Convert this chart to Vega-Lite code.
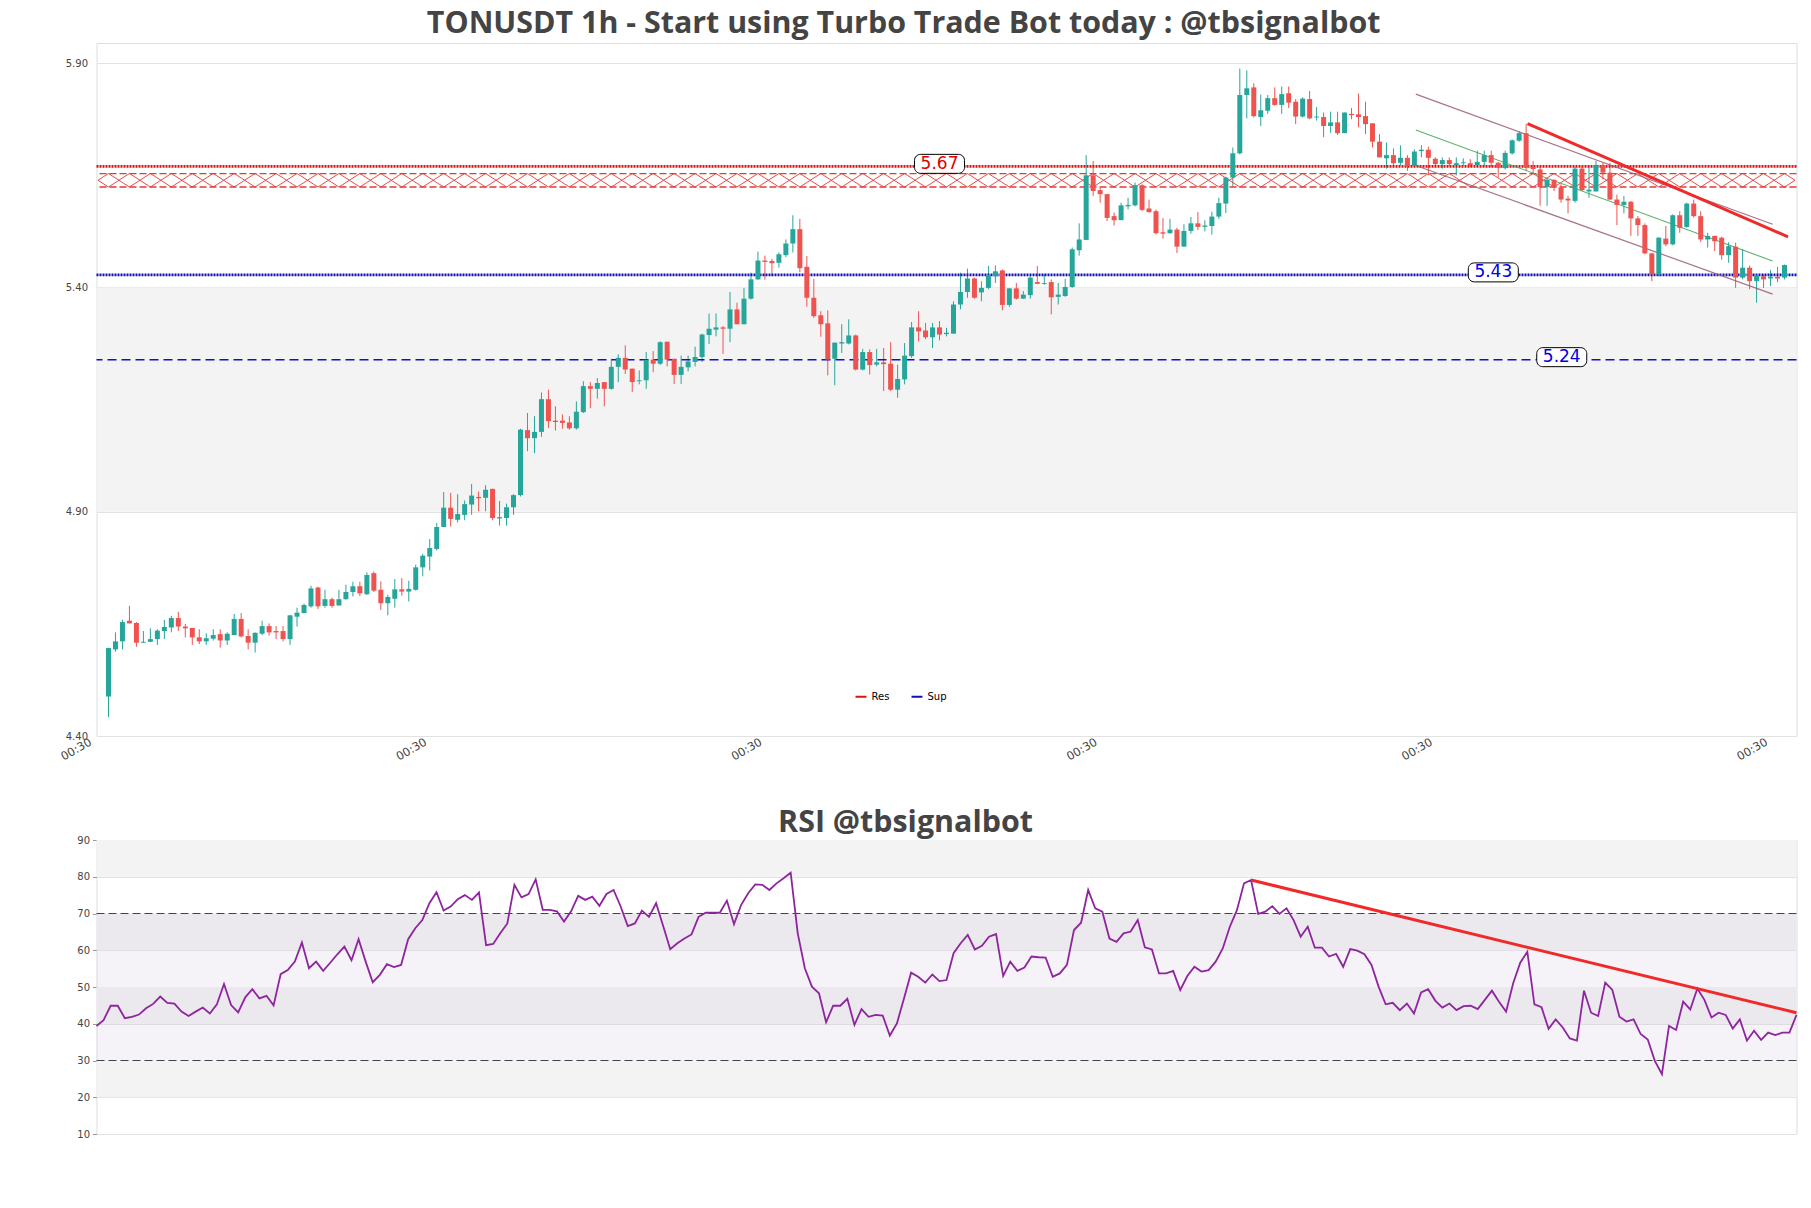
{
"$schema":"https://vega.github.io/schema/vega-lite/v6.json",
"background":"white",
"padding":{"left":57.5,"top":9,"right":5,"bottom":5},
"title":{"text":"TONUSDT 1h - Start using Turbo Trade Bot today : @tbsignalbot","font":"Open Sans","fontSize":30.4,"fontWeight":"bold","color":"#444444","anchor":"middle","offset":3,"dx":-27},
"config":{
 "view":{"stroke":"#dddddd"},
 "axis":{"labelFont":"DejaVu Sans","labelFontSize":10,"labelColor":"#444444","domain":false,"ticks":false,"gridColor":"#e2e2e2","zindex":1},
 "concat":{"spacing":43}
},
"datasets":{
"one":[{}],
"candles":[
{"i":0,"o":4.488,"h":4.597,"l":4.442,"c":4.596},{"i":1,"o":4.593,"h":4.631,"l":4.588,"c":4.611},{"i":2,"o":4.611,"h":4.659,"l":4.593,"c":4.654},{"i":3,"o":4.657,"h":4.690,"l":4.651,"c":4.651},{"i":4,"o":4.652,"h":4.654,"l":4.599,"c":4.608},{"i":5,"o":4.608,"h":4.634,"l":4.607,"c":4.610},{"i":6,"o":4.610,"h":4.640,"l":4.609,"c":4.616},{"i":7,"o":4.616,"h":4.638,"l":4.603,"c":4.635},{"i":8,"o":4.634,"h":4.659,"l":4.616,"c":4.643},{"i":9,"o":4.642,"h":4.668,"l":4.631,"c":4.663},
{"i":10,"o":4.663,"h":4.677,"l":4.634,"c":4.644},{"i":11,"o":4.644,"h":4.650,"l":4.620,"c":4.640},{"i":12,"o":4.641,"h":4.641,"l":4.603,"c":4.620},{"i":13,"o":4.620,"h":4.638,"l":4.605,"c":4.611},{"i":14,"o":4.611,"h":4.629,"l":4.603,"c":4.618},{"i":15,"o":4.617,"h":4.638,"l":4.613,"c":4.625},{"i":16,"o":4.627,"h":4.638,"l":4.597,"c":4.613},{"i":17,"o":4.613,"h":4.631,"l":4.603,"c":4.628},{"i":18,"o":4.625,"h":4.672,"l":4.625,"c":4.661},{"i":19,"o":4.661,"h":4.674,"l":4.620,"c":4.622},
{"i":20,"o":4.623,"h":4.638,"l":4.593,"c":4.608},{"i":21,"o":4.608,"h":4.631,"l":4.586,"c":4.630},{"i":22,"o":4.628,"h":4.657,"l":4.625,"c":4.645},{"i":23,"o":4.645,"h":4.651,"l":4.624,"c":4.631},{"i":24,"o":4.634,"h":4.645,"l":4.616,"c":4.631},{"i":25,"o":4.634,"h":4.645,"l":4.611,"c":4.616},{"i":26,"o":4.616,"h":4.670,"l":4.603,"c":4.669},{"i":27,"o":4.666,"h":4.686,"l":4.644,"c":4.675},{"i":28,"o":4.674,"h":4.695,"l":4.674,"c":4.692},{"i":29,"o":4.689,"h":4.735,"l":4.686,"c":4.729},
{"i":30,"o":4.731,"h":4.733,"l":4.683,"c":4.689},{"i":31,"o":4.690,"h":4.726,"l":4.686,"c":4.705},{"i":32,"o":4.705,"h":4.709,"l":4.686,"c":4.690},{"i":33,"o":4.691,"h":4.726,"l":4.691,"c":4.705},{"i":34,"o":4.705,"h":4.737,"l":4.704,"c":4.721},{"i":35,"o":4.721,"h":4.744,"l":4.711,"c":4.734},{"i":36,"o":4.734,"h":4.744,"l":4.712,"c":4.718},{"i":37,"o":4.716,"h":4.765,"l":4.715,"c":4.759},{"i":38,"o":4.763,"h":4.767,"l":4.721,"c":4.724},{"i":39,"o":4.726,"h":4.745,"l":4.681,"c":4.696},
{"i":40,"o":4.696,"h":4.715,"l":4.669,"c":4.710},{"i":41,"o":4.706,"h":4.750,"l":4.686,"c":4.727},{"i":42,"o":4.727,"h":4.752,"l":4.713,"c":4.722},{"i":43,"o":4.722,"h":4.746,"l":4.700,"c":4.728},{"i":44,"o":4.726,"h":4.782,"l":4.724,"c":4.776},{"i":45,"o":4.776,"h":4.806,"l":4.756,"c":4.802},{"i":46,"o":4.800,"h":4.839,"l":4.769,"c":4.819},{"i":47,"o":4.817,"h":4.875,"l":4.814,"c":4.866},{"i":48,"o":4.866,"h":4.944,"l":4.866,"c":4.909},{"i":49,"o":4.909,"h":4.942,"l":4.867,"c":4.884},
{"i":50,"o":4.882,"h":4.939,"l":4.876,"c":4.895},{"i":51,"o":4.893,"h":4.925,"l":4.881,"c":4.917},{"i":52,"o":4.916,"h":4.962,"l":4.893,"c":4.936},{"i":53,"o":4.933,"h":4.945,"l":4.901,"c":4.930},{"i":54,"o":4.931,"h":4.959,"l":4.901,"c":4.949},{"i":55,"o":4.951,"h":4.951,"l":4.881,"c":4.886},{"i":56,"o":4.885,"h":4.924,"l":4.869,"c":4.888},{"i":57,"o":4.886,"h":4.918,"l":4.869,"c":4.910},{"i":58,"o":4.910,"h":4.939,"l":4.893,"c":4.937},{"i":59,"o":4.937,"h":5.085,"l":4.934,"c":5.083},
{"i":60,"o":5.082,"h":5.120,"l":5.035,"c":5.064},{"i":61,"o":5.064,"h":5.113,"l":5.031,"c":5.078},{"i":62,"o":5.078,"h":5.166,"l":5.067,"c":5.151},{"i":63,"o":5.151,"h":5.172,"l":5.087,"c":5.102},{"i":64,"o":5.103,"h":5.135,"l":5.081,"c":5.100},{"i":65,"o":5.103,"h":5.117,"l":5.085,"c":5.098},{"i":66,"o":5.099,"h":5.113,"l":5.083,"c":5.086},{"i":67,"o":5.086,"h":5.146,"l":5.083,"c":5.123},{"i":68,"o":5.122,"h":5.191,"l":5.120,"c":5.180},{"i":69,"o":5.180,"h":5.189,"l":5.131,"c":5.174},
{"i":70,"o":5.174,"h":5.198,"l":5.152,"c":5.187},{"i":71,"o":5.189,"h":5.189,"l":5.135,"c":5.174},{"i":72,"o":5.174,"h":5.241,"l":5.172,"c":5.223},{"i":73,"o":5.223,"h":5.251,"l":5.189,"c":5.243},{"i":74,"o":5.243,"h":5.271,"l":5.207,"c":5.217},{"i":75,"o":5.219,"h":5.219,"l":5.167,"c":5.189},{"i":76,"o":5.191,"h":5.215,"l":5.184,"c":5.193},{"i":77,"o":5.193,"h":5.256,"l":5.174,"c":5.239},{"i":78,"o":5.239,"h":5.258,"l":5.211,"c":5.230},{"i":79,"o":5.230,"h":5.280,"l":5.227,"c":5.278},
{"i":80,"o":5.279,"h":5.279,"l":5.224,"c":5.239},{"i":81,"o":5.241,"h":5.241,"l":5.185,"c":5.205},{"i":82,"o":5.205,"h":5.248,"l":5.185,"c":5.223},{"i":83,"o":5.222,"h":5.248,"l":5.213,"c":5.235},{"i":84,"o":5.234,"h":5.268,"l":5.224,"c":5.245},{"i":85,"o":5.245,"h":5.297,"l":5.234,"c":5.295},{"i":86,"o":5.294,"h":5.342,"l":5.274,"c":5.308},{"i":87,"o":5.306,"h":5.342,"l":5.291,"c":5.311},{"i":88,"o":5.311,"h":5.314,"l":5.252,"c":5.308},{"i":89,"o":5.308,"h":5.390,"l":5.278,"c":5.351},
{"i":90,"o":5.351,"h":5.366,"l":5.318,"c":5.318},{"i":91,"o":5.318,"h":5.399,"l":5.318,"c":5.375},{"i":92,"o":5.375,"h":5.433,"l":5.373,"c":5.418},{"i":93,"o":5.418,"h":5.480,"l":5.417,"c":5.460},{"i":94,"o":5.460,"h":5.471,"l":5.417,"c":5.457},{"i":95,"o":5.459,"h":5.464,"l":5.425,"c":5.454},{"i":96,"o":5.455,"h":5.478,"l":5.444,"c":5.474},{"i":97,"o":5.472,"h":5.507,"l":5.468,"c":5.498},{"i":98,"o":5.498,"h":5.561,"l":5.478,"c":5.530},{"i":99,"o":5.530,"h":5.553,"l":5.434,"c":5.443},
{"i":100,"o":5.446,"h":5.470,"l":5.357,"c":5.377},{"i":101,"o":5.377,"h":5.419,"l":5.332,"c":5.336},{"i":102,"o":5.338,"h":5.347,"l":5.290,"c":5.318},{"i":103,"o":5.320,"h":5.349,"l":5.204,"c":5.239},{"i":104,"o":5.241,"h":5.277,"l":5.182,"c":5.277},{"i":105,"o":5.275,"h":5.318,"l":5.254,"c":5.278},{"i":106,"o":5.275,"h":5.329,"l":5.273,"c":5.293},{"i":107,"o":5.293,"h":5.295,"l":5.215,"c":5.217},{"i":108,"o":5.217,"h":5.263,"l":5.215,"c":5.256},{"i":109,"o":5.256,"h":5.262,"l":5.206,"c":5.227},
{"i":110,"o":5.228,"h":5.263,"l":5.224,"c":5.233},{"i":111,"o":5.233,"h":5.265,"l":5.169,"c":5.229},{"i":112,"o":5.230,"h":5.278,"l":5.169,"c":5.172},{"i":113,"o":5.172,"h":5.228,"l":5.154,"c":5.196},{"i":114,"o":5.195,"h":5.276,"l":5.184,"c":5.248},{"i":115,"o":5.247,"h":5.323,"l":5.243,"c":5.311},{"i":116,"o":5.311,"h":5.347,"l":5.280,"c":5.302},{"i":117,"o":5.304,"h":5.321,"l":5.285,"c":5.289},{"i":118,"o":5.289,"h":5.321,"l":5.265,"c":5.311},{"i":119,"o":5.311,"h":5.325,"l":5.282,"c":5.295},
{"i":120,"o":5.296,"h":5.310,"l":5.291,"c":5.299},{"i":121,"o":5.297,"h":5.369,"l":5.297,"c":5.362},{"i":122,"o":5.362,"h":5.433,"l":5.351,"c":5.390},{"i":123,"o":5.390,"h":5.442,"l":5.377,"c":5.420},{"i":124,"o":5.420,"h":5.422,"l":5.375,"c":5.377},{"i":125,"o":5.389,"h":5.414,"l":5.369,"c":5.399},{"i":126,"o":5.399,"h":5.448,"l":5.396,"c":5.428},{"i":127,"o":5.425,"h":5.449,"l":5.410,"c":5.436},{"i":128,"o":5.438,"h":5.440,"l":5.349,"c":5.361},{"i":129,"o":5.361,"h":5.398,"l":5.357,"c":5.398},
{"i":130,"o":5.398,"h":5.410,"l":5.373,"c":5.375},{"i":131,"o":5.375,"h":5.392,"l":5.375,"c":5.384},{"i":132,"o":5.383,"h":5.425,"l":5.375,"c":5.422},{"i":133,"o":5.412,"h":5.448,"l":5.407,"c":5.408},{"i":134,"o":5.408,"h":5.430,"l":5.406,"c":5.410},{"i":135,"o":5.412,"h":5.418,"l":5.340,"c":5.378},{"i":136,"o":5.379,"h":5.410,"l":5.362,"c":5.384},{"i":137,"o":5.381,"h":5.419,"l":5.379,"c":5.401},{"i":138,"o":5.401,"h":5.489,"l":5.399,"c":5.485},{"i":139,"o":5.483,"h":5.543,"l":5.471,"c":5.507},
{"i":140,"o":5.506,"h":5.695,"l":5.506,"c":5.650},{"i":141,"o":5.650,"h":5.682,"l":5.604,"c":5.615},{"i":142,"o":5.617,"h":5.622,"l":5.589,"c":5.608},{"i":143,"o":5.608,"h":5.608,"l":5.548,"c":5.555},{"i":144,"o":5.559,"h":5.567,"l":5.538,"c":5.550},{"i":145,"o":5.550,"h":5.589,"l":5.550,"c":5.583},{"i":146,"o":5.581,"h":5.600,"l":5.574,"c":5.584},{"i":147,"o":5.583,"h":5.634,"l":5.581,"c":5.628},{"i":148,"o":5.628,"h":5.630,"l":5.570,"c":5.573},{"i":149,"o":5.576,"h":5.596,"l":5.567,"c":5.568},
{"i":150,"o":5.570,"h":5.574,"l":5.518,"c":5.521},{"i":151,"o":5.523,"h":5.555,"l":5.509,"c":5.520},{"i":152,"o":5.521,"h":5.553,"l":5.520,"c":5.529},{"i":153,"o":5.529,"h":5.533,"l":5.477,"c":5.491},{"i":154,"o":5.491,"h":5.541,"l":5.491,"c":5.526},{"i":155,"o":5.526,"h":5.557,"l":5.520,"c":5.543},{"i":156,"o":5.543,"h":5.568,"l":5.528,"c":5.535},{"i":157,"o":5.535,"h":5.550,"l":5.525,"c":5.538},{"i":158,"o":5.537,"h":5.569,"l":5.518,"c":5.558},{"i":159,"o":5.558,"h":5.600,"l":5.553,"c":5.588},
{"i":160,"o":5.587,"h":5.647,"l":5.566,"c":5.645},{"i":161,"o":5.645,"h":5.712,"l":5.625,"c":5.699},{"i":162,"o":5.699,"h":5.888,"l":5.697,"c":5.829},{"i":163,"o":5.829,"h":5.884,"l":5.777,"c":5.844},{"i":164,"o":5.846,"h":5.855,"l":5.779,"c":5.782},{"i":165,"o":5.780,"h":5.830,"l":5.760,"c":5.795},{"i":166,"o":5.794,"h":5.829,"l":5.787,"c":5.822},{"i":167,"o":5.822,"h":5.846,"l":5.805,"c":5.807},{"i":168,"o":5.807,"h":5.848,"l":5.787,"c":5.831},{"i":169,"o":5.833,"h":5.848,"l":5.800,"c":5.812},
{"i":170,"o":5.814,"h":5.820,"l":5.764,"c":5.781},{"i":171,"o":5.781,"h":5.824,"l":5.779,"c":5.821},{"i":172,"o":5.820,"h":5.838,"l":5.775,"c":5.777},{"i":173,"o":5.779,"h":5.802,"l":5.772,"c":5.781},{"i":174,"o":5.780,"h":5.790,"l":5.735,"c":5.760},{"i":175,"o":5.760,"h":5.792,"l":5.745,"c":5.768},{"i":176,"o":5.768,"h":5.792,"l":5.740,"c":5.744},{"i":177,"o":5.744,"h":5.790,"l":5.744,"c":5.790},{"i":178,"o":5.787,"h":5.800,"l":5.775,"c":5.784},{"i":179,"o":5.786,"h":5.832,"l":5.757,"c":5.780},
{"i":180,"o":5.782,"h":5.814,"l":5.742,"c":5.764},{"i":181,"o":5.766,"h":5.766,"l":5.712,"c":5.725},{"i":182,"o":5.725,"h":5.742,"l":5.690,"c":5.690},{"i":183,"o":5.688,"h":5.723,"l":5.665,"c":5.695},{"i":184,"o":5.695,"h":5.710,"l":5.668,"c":5.677},{"i":185,"o":5.678,"h":5.717,"l":5.672,"c":5.689},{"i":186,"o":5.689,"h":5.695,"l":5.660,"c":5.671},{"i":187,"o":5.671,"h":5.708,"l":5.668,"c":5.703},{"i":188,"o":5.704,"h":5.717,"l":5.690,"c":5.707},{"i":189,"o":5.707,"h":5.714,"l":5.650,"c":5.689},
{"i":190,"o":5.687,"h":5.690,"l":5.668,"c":5.675},{"i":191,"o":5.675,"h":5.690,"l":5.665,"c":5.684},{"i":192,"o":5.684,"h":5.690,"l":5.670,"c":5.675},{"i":193,"o":5.673,"h":5.690,"l":5.650,"c":5.677},{"i":194,"o":5.677,"h":5.688,"l":5.672,"c":5.679},{"i":195,"o":5.677,"h":5.686,"l":5.668,"c":5.673},{"i":196,"o":5.673,"h":5.705,"l":5.668,"c":5.680},{"i":197,"o":5.680,"h":5.705,"l":5.670,"c":5.695},{"i":198,"o":5.695,"h":5.705,"l":5.668,"c":5.678},{"i":199,"o":5.678,"h":5.680,"l":5.645,"c":5.667},
{"i":200,"o":5.666,"h":5.705,"l":5.663,"c":5.700},{"i":201,"o":5.699,"h":5.730,"l":5.696,"c":5.728},{"i":202,"o":5.727,"h":5.748,"l":5.725,"c":5.744},{"i":203,"o":5.744,"h":5.765,"l":5.660,"c":5.667},{"i":204,"o":5.669,"h":5.682,"l":5.655,"c":5.664},{"i":205,"o":5.663,"h":5.668,"l":5.582,"c":5.624},{"i":206,"o":5.624,"h":5.643,"l":5.582,"c":5.640},{"i":207,"o":5.640,"h":5.641,"l":5.615,"c":5.623},{"i":208,"o":5.623,"h":5.630,"l":5.589,"c":5.596},{"i":209,"o":5.598,"h":5.604,"l":5.565,"c":5.594},
{"i":210,"o":5.593,"h":5.669,"l":5.589,"c":5.665},{"i":211,"o":5.665,"h":5.669,"l":5.615,"c":5.617},{"i":212,"o":5.614,"h":5.671,"l":5.600,"c":5.618},{"i":213,"o":5.614,"h":5.682,"l":5.614,"c":5.672},{"i":214,"o":5.672,"h":5.678,"l":5.641,"c":5.656},{"i":215,"o":5.656,"h":5.678,"l":5.595,"c":5.596},{"i":216,"o":5.596,"h":5.607,"l":5.539,"c":5.584},{"i":217,"o":5.584,"h":5.604,"l":5.565,"c":5.591},{"i":218,"o":5.591,"h":5.593,"l":5.515,"c":5.554},{"i":219,"o":5.554,"h":5.559,"l":5.515,"c":5.539},
{"i":220,"o":5.539,"h":5.543,"l":5.474,"c":5.476},{"i":221,"o":5.476,"h":5.477,"l":5.414,"c":5.429},{"i":222,"o":5.429,"h":5.512,"l":5.425,"c":5.511},{"i":223,"o":5.509,"h":5.537,"l":5.492,"c":5.496},{"i":224,"o":5.496,"h":5.563,"l":5.494,"c":5.561},{"i":225,"o":5.561,"h":5.570,"l":5.522,"c":5.533},{"i":226,"o":5.535,"h":5.589,"l":5.533,"c":5.587},{"i":227,"o":5.587,"h":5.596,"l":5.556,"c":5.559},{"i":228,"o":5.559,"h":5.570,"l":5.501,"c":5.507},{"i":229,"o":5.507,"h":5.522,"l":5.489,"c":5.515},
{"i":230,"o":5.515,"h":5.515,"l":5.481,"c":5.503},{"i":231,"o":5.511,"h":5.513,"l":5.462,"c":5.472},{"i":232,"o":5.472,"h":5.501,"l":5.455,"c":5.492},{"i":233,"o":5.491,"h":5.500,"l":5.399,"c":5.422},{"i":234,"o":5.422,"h":5.486,"l":5.418,"c":5.444},{"i":235,"o":5.444,"h":5.449,"l":5.396,"c":5.414},{"i":236,"o":5.414,"h":5.429,"l":5.366,"c":5.427},{"i":237,"o":5.425,"h":5.429,"l":5.399,"c":5.418},{"i":238,"o":5.420,"h":5.439,"l":5.403,"c":5.424},{"i":239,"o":5.424,"h":5.446,"l":5.412,"c":5.420},
{"i":240,"o":5.422,"h":5.451,"l":5.418,"c":5.450}
],
"rsi":[
{"i":0,"r":39.4},{"i":1,"r":41.0},{"i":2,"r":44.9},{"i":3,"r":44.9},{"i":4,"r":41.5},{"i":5,"r":41.9},{"i":6,"r":42.5},{"i":7,"r":44.2},{"i":8,"r":45.4},{"i":9,"r":47.4},
{"i":10,"r":45.7},{"i":11,"r":45.5},{"i":12,"r":43.3},{"i":13,"r":42.1},{"i":14,"r":43.3},{"i":15,"r":44.4},{"i":16,"r":42.8},{"i":17,"r":45.3},{"i":18,"r":50.8},{"i":19,"r":45.1},
{"i":20,"r":43.1},{"i":21,"r":47.2},{"i":22,"r":49.4},{"i":23,"r":46.9},{"i":24,"r":47.6},{"i":25,"r":45.0},{"i":26,"r":53.5},{"i":27,"r":54.6},{"i":28,"r":56.9},{"i":29,"r":62.1},
{"i":30,"r":55.1},{"i":31,"r":56.9},{"i":32,"r":54.4},{"i":33,"r":56.6},{"i":34,"r":58.9},{"i":35,"r":61.0},{"i":36,"r":57.3},{"i":37,"r":63.0},{"i":38,"r":56.9},{"i":39,"r":51.3},
{"i":40,"r":53.3},{"i":41,"r":56.2},{"i":42,"r":55.4},{"i":43,"r":56.0},{"i":44,"r":63.0},{"i":45,"r":66.0},{"i":46,"r":68.2},{"i":47,"r":72.8},{"i":48,"r":75.8},{"i":49,"r":70.8},
{"i":50,"r":71.9},{"i":51,"r":73.9},{"i":52,"r":75.0},{"i":53,"r":73.7},{"i":54,"r":75.7},{"i":55,"r":61.4},{"i":56,"r":61.7},{"i":57,"r":64.6},{"i":58,"r":67.3},{"i":59,"r":77.8},
{"i":60,"r":74.4},{"i":61,"r":75.3},{"i":62,"r":79.3},{"i":63,"r":71.0},{"i":64,"r":71.0},{"i":65,"r":70.6},{"i":66,"r":67.8},{"i":67,"r":70.6},{"i":68,"r":74.8},{"i":69,"r":73.7},
{"i":70,"r":74.6},{"i":71,"r":72.1},{"i":72,"r":75.3},{"i":73,"r":76.4},{"i":74,"r":71.9},{"i":75,"r":66.6},{"i":76,"r":67.3},{"i":77,"r":70.8},{"i":78,"r":69.1},{"i":79,"r":72.8},
{"i":80,"r":66.6},{"i":81,"r":60.3},{"i":82,"r":61.9},{"i":83,"r":63.2},{"i":84,"r":64.3},{"i":85,"r":69.1},{"i":86,"r":70.2},{"i":87,"r":70.2},{"i":88,"r":70.2},{"i":89,"r":73.5},
{"i":90,"r":67.1},{"i":91,"r":72.3},{"i":92,"r":75.5},{"i":93,"r":77.9},{"i":94,"r":77.8},{"i":95,"r":76.4},{"i":96,"r":78.2},{"i":97,"r":79.6},{"i":98,"r":81.1},{"i":99,"r":64.6},
{"i":100,"r":55.1},{"i":101,"r":50.1},{"i":102,"r":48.3},{"i":103,"r":40.4},{"i":104,"r":44.9},{"i":105,"r":44.9},{"i":106,"r":46.8},{"i":107,"r":39.7},{"i":108,"r":44.0},{"i":109,"r":41.9},
{"i":110,"r":42.4},{"i":111,"r":42.2},{"i":112,"r":36.8},{"i":113,"r":40.1},{"i":114,"r":46.9},{"i":115,"r":53.9},{"i":116,"r":52.8},{"i":117,"r":51.2},{"i":118,"r":53.4},{"i":119,"r":51.6},
{"i":120,"r":51.9},{"i":121,"r":59.2},{"i":122,"r":61.9},{"i":123,"r":64.2},{"i":124,"r":60.2},{"i":125,"r":61.2},{"i":126,"r":63.7},{"i":127,"r":64.4},{"i":128,"r":53.0},{"i":129,"r":56.9},
{"i":130,"r":54.4},{"i":131,"r":55.3},{"i":132,"r":58.3},{"i":133,"r":58.1},{"i":134,"r":58.0},{"i":135,"r":52.8},{"i":136,"r":53.7},{"i":137,"r":56.0},{"i":138,"r":65.5},{"i":139,"r":67.5},
{"i":140,"r":76.4},{"i":141,"r":71.4},{"i":142,"r":70.5},{"i":143,"r":63.2},{"i":144,"r":62.3},{"i":145,"r":64.6},{"i":146,"r":65.1},{"i":147,"r":68.2},{"i":148,"r":60.8},{"i":149,"r":60.2},
{"i":150,"r":53.7},{"i":151,"r":53.7},{"i":152,"r":54.4},{"i":153,"r":49.2},{"i":154,"r":53.0},{"i":155,"r":55.5},{"i":156,"r":54.2},{"i":157,"r":54.6},{"i":158,"r":56.9},{"i":159,"r":60.5},
{"i":160,"r":66.4},{"i":161,"r":70.9},{"i":162,"r":78.2},{"i":163,"r":79.1},{"i":164,"r":69.9},{"i":165,"r":70.5},{"i":166,"r":72.0},{"i":167,"r":69.9},{"i":168,"r":71.4},{"i":169,"r":68.2},
{"i":170,"r":63.7},{"i":171,"r":66.4},{"i":172,"r":60.7},{"i":173,"r":60.7},{"i":174,"r":58.3},{"i":175,"r":59.0},{"i":176,"r":55.5},{"i":177,"r":60.3},{"i":178,"r":59.9},{"i":179,"r":58.9},
{"i":180,"r":56.0},{"i":181,"r":50.1},{"i":182,"r":45.3},{"i":183,"r":45.7},{"i":184,"r":43.7},{"i":185,"r":45.5},{"i":186,"r":42.8},{"i":187,"r":48.5},{"i":188,"r":49.4},{"i":189,"r":46.3},
{"i":190,"r":44.4},{"i":191,"r":45.5},{"i":192,"r":43.7},{"i":193,"r":44.8},{"i":194,"r":44.9},{"i":195,"r":44.0},{"i":196,"r":46.5},{"i":197,"r":49.0},{"i":198,"r":46.0},{"i":199,"r":43.3},
{"i":200,"r":51.0},{"i":201,"r":56.6},{"i":202,"r":59.6},{"i":203,"r":45.3},{"i":204,"r":44.5},{"i":205,"r":38.6},{"i":206,"r":41.2},{"i":207,"r":39.0},{"i":208,"r":36.0},{"i":209,"r":35.4},
{"i":210,"r":49.0},{"i":211,"r":43.0},{"i":212,"r":42.1},{"i":213,"r":51.2},{"i":214,"r":49.2},{"i":215,"r":41.9},{"i":216,"r":40.6},{"i":217,"r":41.2},{"i":218,"r":37.2},{"i":219,"r":35.7},
{"i":220,"r":29.9},{"i":221,"r":26.3},{"i":222,"r":39.4},{"i":223,"r":38.3},{"i":224,"r":46.0},{"i":225,"r":43.9},{"i":226,"r":49.6},{"i":227,"r":46.5},{"i":228,"r":41.7},{"i":229,"r":43.0},
{"i":230,"r":42.4},{"i":231,"r":38.7},{"i":232,"r":41.2},{"i":233,"r":35.4},{"i":234,"r":38.1},{"i":235,"r":35.6},{"i":236,"r":37.6},{"i":237,"r":36.9},{"i":238,"r":37.6},{"i":239,"r":37.6},
{"i":240,"r":42.4}
],
"levels":[{"name":"Res","level":5.67,"at":119},{"name":"Sup","level":5.428,"at":198.3}],
"channel":[{"g":"upper","i":187.2,"p":5.831},{"g":"upper","i":238.3,"p":5.541},{"g":"lower","i":187.2,"p":5.672},{"g":"lower","i":238.3,"p":5.385}],
"channelMid":[{"i":187.2,"p":5.751},{"i":238.3,"p":5.459}],
"trend":[{"i":203.2,"p":5.765},{"i":240.5,"p":5.513}],
"rsiTrend":[{"i":163,"r":79.1},{"i":240,"r":43.0}]
},
"vconcat":[
{
"width":1700,"height":693,
"layer":[
{"data":{"name":"one"},"mark":{"type":"rect","fill":"#f3f3f3"},"encoding":{"x":{"value":0},"x2":{"value":"width"},"y":{"datum":4.9,"type":"quantitative","title":null},"y2":{"datum":5.4}}},
{"data":{"name":"candles"},"mark":{"type":"rule","strokeWidth":1},
 "encoding":{
  "x":{"field":"i","type":"quantitative","title":null,"scale":{"domain":[-1,241],"nice":false,"zero":false},
       "axis":{"values":[0,48,96,144,192,240],"labelExpr":"'00:30'","labelAngle":-30,"labelAlign":"right","labelBaseline":"top","labelPadding":0,"labelOffset":-21,"labelFontSize":11.5,"grid":false}},
  "y":{"field":"l","type":"quantitative","title":null,"scale":{"domain":[4.4,5.945],"nice":false,"zero":false},
       "axis":{"values":[4.4,4.9,5.4,5.9],"format":".2f","labelPadding":9,"grid":true,"labelFontSize":10}},
  "y2":{"field":"h"},
  "color":{"condition":{"test":"datum.c >= datum.o","value":"#26a69a"},"value":"#ef5350"}}},
{"data":{"name":"candles"},"transform":[{"filter":"datum.i % 3 == 0"}],
 "mark":{"type":"point","shape":"M-1,0L0,-0.64L1,0L0,0.64Z","size":444,"filled":false,"color":"#e53935","strokeWidth":1,"opacity":0.9,"clip":true},
 "encoding":{"x":{"field":"i","type":"quantitative","title":null},"y":{"datum":5.639,"title":null}}},
{"data":{"name":"one"},"mark":{"type":"rule","color":"#e53935","strokeWidth":1.3,"strokeDash":[7,3]},"encoding":{"y":{"datum":5.654,"title":null}}},
{"data":{"name":"one"},"mark":{"type":"rule","color":"#e53935","strokeWidth":1.3,"strokeDash":[7,3]},"encoding":{"y":{"datum":5.624,"title":null}}},
{"data":{"name":"one"},"mark":{"type":"rule","color":"#1010c8","strokeWidth":1.5,"strokeDash":[9,5]},"encoding":{"y":{"datum":5.239,"title":null}}},
{"data":{"name":"levels"},"mark":{"type":"rule","strokeWidth":2.6,"strokeDash":[2,1]},
 "encoding":{"y":{"field":"level","type":"quantitative","title":null},
  "color":{"field":"name","type":"nominal","scale":{"domain":["Res","Sup"],"range":["#dd1111","#1010bb"]},
   "legend":{"title":null,"orient":"none","legendX":758,"legendY":647,"direction":"horizontal","symbolType":"stroke","symbolSize":120,"symbolStrokeWidth":2,"symbolDash":[10,0],"labelFont":"DejaVu Sans","labelFontSize":10,"labelColor":"#000000","columnPadding":18,"padding":0}}}},
{"data":{"name":"channel"},"mark":{"type":"line","color":"#9a5a72","strokeWidth":1.2,"opacity":0.85},
 "encoding":{"x":{"field":"i","type":"quantitative","title":null},"y":{"field":"p","type":"quantitative","title":null},"detail":{"field":"g"}}},
{"data":{"name":"channelMid"},"mark":{"type":"line","color":"#3fa34d","strokeWidth":1.1,"opacity":0.85},
 "encoding":{"x":{"field":"i","type":"quantitative","title":null},"y":{"field":"p","type":"quantitative","title":null}}},
{"data":{"name":"candles"},"mark":{"type":"bar","width":5},
 "encoding":{"x":{"field":"i","type":"quantitative","title":null},"y":{"field":"o","type":"quantitative","title":null},"y2":{"field":"c"},
  "color":{"condition":{"test":"datum.c >= datum.o","value":"#26a69a"},"value":"#ef5350"}}},
{"data":{"name":"trend"},"mark":{"type":"line","color":"#f02a2a","strokeWidth":3},
 "encoding":{"x":{"field":"i","type":"quantitative","title":null},"y":{"field":"p","type":"quantitative","title":null}}},
{"data":{"name":"levels"},"mark":{"type":"rect","fill":"#ffffff","stroke":"#000000","strokeWidth":1,"cornerRadius":6,"xOffset":-25,"x2Offset":25,"yOffset":-12,"y2Offset":7},
 "encoding":{"x":{"field":"at","type":"quantitative","title":null},"x2":{"field":"at"},"y":{"field":"level","type":"quantitative","title":null},"y2":{"field":"level"}}},
{"data":{"name":"levels"},"mark":{"type":"text","font":"DejaVu Sans","fontSize":17,"baseline":"middle","dy":-2.5},
 "encoding":{"x":{"field":"at","type":"quantitative","title":null},"y":{"field":"level","type":"quantitative","title":null},"text":{"field":"level","format":".2f"},
  "color":{"condition":{"test":"datum.name == 'Res'","value":"#e00000"},"value":"#0000dd"}}},
{"data":{"name":"one"},"mark":{"type":"rect","fill":"#ffffff","stroke":"#000000","strokeWidth":1,"cornerRadius":6,"xOffset":-25,"x2Offset":25,"yOffset":-12,"y2Offset":7},
 "encoding":{"x":{"datum":208.1,"type":"quantitative"},"x2":{"datum":208.1},"y":{"datum":5.239,"type":"quantitative"},"y2":{"datum":5.239}}},
{"data":{"name":"one"},"mark":{"type":"text","font":"DejaVu Sans","fontSize":17,"baseline":"middle","dy":-2.5,"color":"#0000dd","text":"5.24"},
 "encoding":{"x":{"datum":208.1,"type":"quantitative"},"y":{"datum":5.239,"type":"quantitative"}}}
]
},
{
"width":1700,"height":294,
"title":{"text":"RSI @tbsignalbot","font":"Open Sans","fontSize":30.4,"fontWeight":"bold","color":"#444444","anchor":"middle","offset":0,"dy":3.5,"dx":-41},
"layer":[
{"data":{"name":"one"},"mark":{"type":"rect","fill":"#f3f3f3"},"encoding":{"x":{"value":0},"x2":{"value":"width"},"y":{"datum":80,"type":"quantitative","title":null,"scale":{"domain":[10,90],"nice":false,"zero":false},"axis":{"tickCount":9,"labelOverlap":false,"grid":true,"ticks":true,"tickSize":4,"tickColor":"#999999","labelPadding":3,"labelFontSize":10}},"y2":{"datum":90}}},
{"data":{"name":"one"},"mark":{"type":"rect","fill":"#f3f3f3"},"encoding":{"x":{"value":0},"x2":{"value":"width"},"y":{"datum":60,"type":"quantitative","title":null},"y2":{"datum":70}}},
{"data":{"name":"one"},"mark":{"type":"rect","fill":"#f3f3f3"},"encoding":{"x":{"value":0},"x2":{"value":"width"},"y":{"datum":40,"type":"quantitative","title":null},"y2":{"datum":50}}},
{"data":{"name":"one"},"mark":{"type":"rect","fill":"#f3f3f3"},"encoding":{"x":{"value":0},"x2":{"value":"width"},"y":{"datum":20,"type":"quantitative","title":null},"y2":{"datum":30}}},
{"data":{"name":"one"},"mark":{"type":"rect","fill":"#cfc3dc","opacity":0.2},"encoding":{"x":{"value":0},"x2":{"value":"width"},"y":{"datum":30,"type":"quantitative","title":null},"y2":{"datum":70}}},
{"data":{"name":"one"},"mark":{"type":"rule","color":"#444444","strokeWidth":1.2,"strokeDash":[8,4]},"encoding":{"y":{"datum":70,"type":"quantitative","title":null}}},
{"data":{"name":"one"},"mark":{"type":"rule","color":"#444444","strokeWidth":1.2,"strokeDash":[8,4]},"encoding":{"y":{"datum":30,"type":"quantitative","title":null}}},
{"data":{"name":"rsi"},"mark":{"type":"line","color":"#8e249e","strokeWidth":1.8},
 "encoding":{"x":{"field":"i","type":"quantitative","title":null,"scale":{"domain":[0,240],"nice":false,"zero":false},"axis":null},
  "y":{"field":"r","type":"quantitative","title":null,"axis":{"tickCount":9,"labelOverlap":false,"grid":true,"ticks":true,"tickSize":4,"tickColor":"#999999","labelPadding":3,"labelFontSize":10}}}},
{"data":{"name":"rsiTrend"},"mark":{"type":"line","color":"#f02a2a","strokeWidth":3},
 "encoding":{"x":{"field":"i","type":"quantitative","title":null},"y":{"field":"r","type":"quantitative","title":null}}}
]
}
]
}
